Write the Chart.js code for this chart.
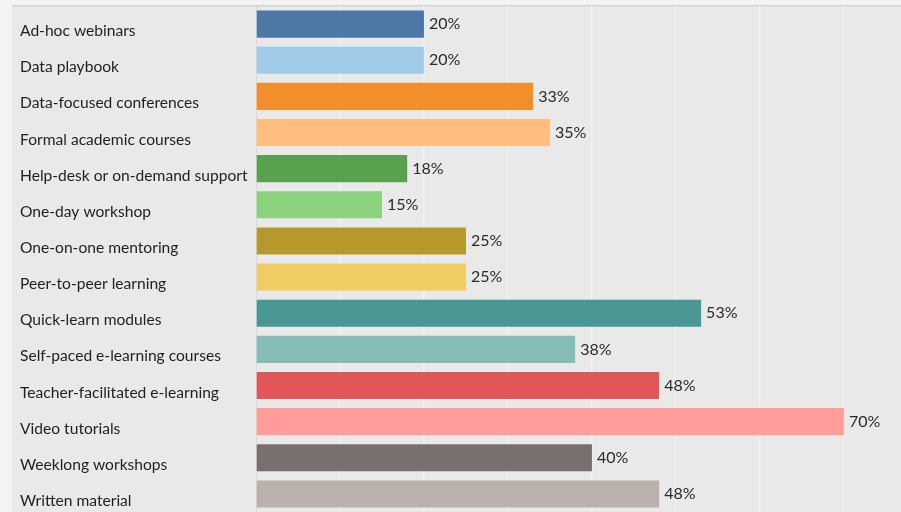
<!DOCTYPE html>
<html>
<head>
<meta charset="utf-8">
<script src="https://cdn.jsdelivr.net/npm/chart.js@4.4.1/dist/chart.umd.min.js"></script>
<style>
  html, body { margin: 0; padding: 0; background: #f3f3f3; }
  #wrap { width: 901px; height: 512px; }
</style>
</head>
<body>
<div id="wrap"><canvas id="learning-chart"></canvas></div>
<script>
const categories = [
    "Ad-hoc webinars",
    "Data playbook",
    "Data-focused conferences",
    "Formal academic courses",
    "Help-desk or on-demand support",
    "One-day workshop",
    "One-on-one mentoring",
    "Peer-to-peer learning",
    "Quick-learn modules",
    "Self-paced e-learning courses",
    "Teacher-facilitated e-learning",
    "Video tutorials",
    "Weeklong workshops",
    "Written material"
];
const shares = [20, 20, 33, 35, 18, 15, 25, 25, 53, 38, 48, 70, 40, 48];
const barColors = [
    "#4e79a7", "#a0cbe8", "#f28e2b", "#ffbe7d", "#59a14f", "#8cd17d", "#b6992d",
    "#f1ce63", "#499894", "#86bcb6", "#e15759", "#ff9d9a", "#79706e", "#bab0ac"
];

const FONT = "Lato, 'Open Sans', sans-serif";

// panel background, header rule and the divider between labels and bars
const panelBackground = {
    id: 'panelBackground',
    beforeDraw(chart) {
        const ctx = chart.ctx;
        const area = chart.chartArea;
        ctx.save();
        ctx.fillStyle = '#f3f3f3';
        ctx.fillRect(0, 0, chart.width, chart.height);
        ctx.fillStyle = '#e9e9e9';
        ctx.fillRect(12, area.top, chart.width - 12, chart.height - area.top);
        ctx.fillStyle = '#d4d4d4';
        ctx.fillRect(12, area.top - 1, chart.width - 12, 1.5);
        ctx.fillStyle = '#d9d9d9';
        ctx.fillRect(area.left, area.top, 1, area.bottom - area.top);
        ctx.restore();
    }
};

// category names (set a little below the bar centre) and percentages past each bar
const barText = {
    id: 'barText',
    afterDatasetsDraw(chart) {
        const ctx = chart.ctx;
        const meta = chart.getDatasetMeta(0);
        ctx.save();
        ctx.textAlign = 'left';
        ctx.textBaseline = 'middle';
        meta.data.forEach(function(bar, i) {
            ctx.fillStyle = '#1f1f1f';
            ctx.font = "15.6px " + FONT;
            ctx.fillText(categories[i], 20, bar.y + 7);
            ctx.fillStyle = '#2a2a2a';
            ctx.font = "16px " + FONT;
            ctx.fillText(shares[i] + '%', bar.x + 5, bar.y);
        });
        ctx.restore();
    }
};

new Chart(document.getElementById('learning-chart'), {
    type: 'bar',
    data: {
        labels: categories,
        datasets: [{
            data: shares,
            backgroundColor: barColors,
            borderWidth: 0,
            barPercentage: 0.75,
            categoryPercentage: 1
        }]
    },
    options: {
        indexAxis: 'y',
        responsive: true,
        maintainAspectRatio: false,
        animation: false,
        layout: { padding: { left: 0, top: 6, right: 0, bottom: 0 } },
        plugins: {
            legend: { display: false },
            tooltip: { enabled: false }
        },
        scales: {
            x: {
                min: 0,
                max: 76.8,
                afterFit: function(s) { s.height = 0; },
                ticks: { display: false, stepSize: 10 },
                border: { display: false },
                grid: {
                    drawTicks: false,
                    lineWidth: 1.5,
                    color: function(c) {
                        const v = c.tick ? c.tick.value : 0;
                        return (v > 0 && v % 10 === 0) ? '#f2f2f2' : 'rgba(0,0,0,0)';
                    }
                }
            },
            y: {
                afterFit: function(s) { s.width = 256; },
                border: { display: false },
                grid: { display: false },
                ticks: { display: false }
            }
        }
    },
    plugins: [panelBackground, barText]
});
</script>
</body>
</html>
